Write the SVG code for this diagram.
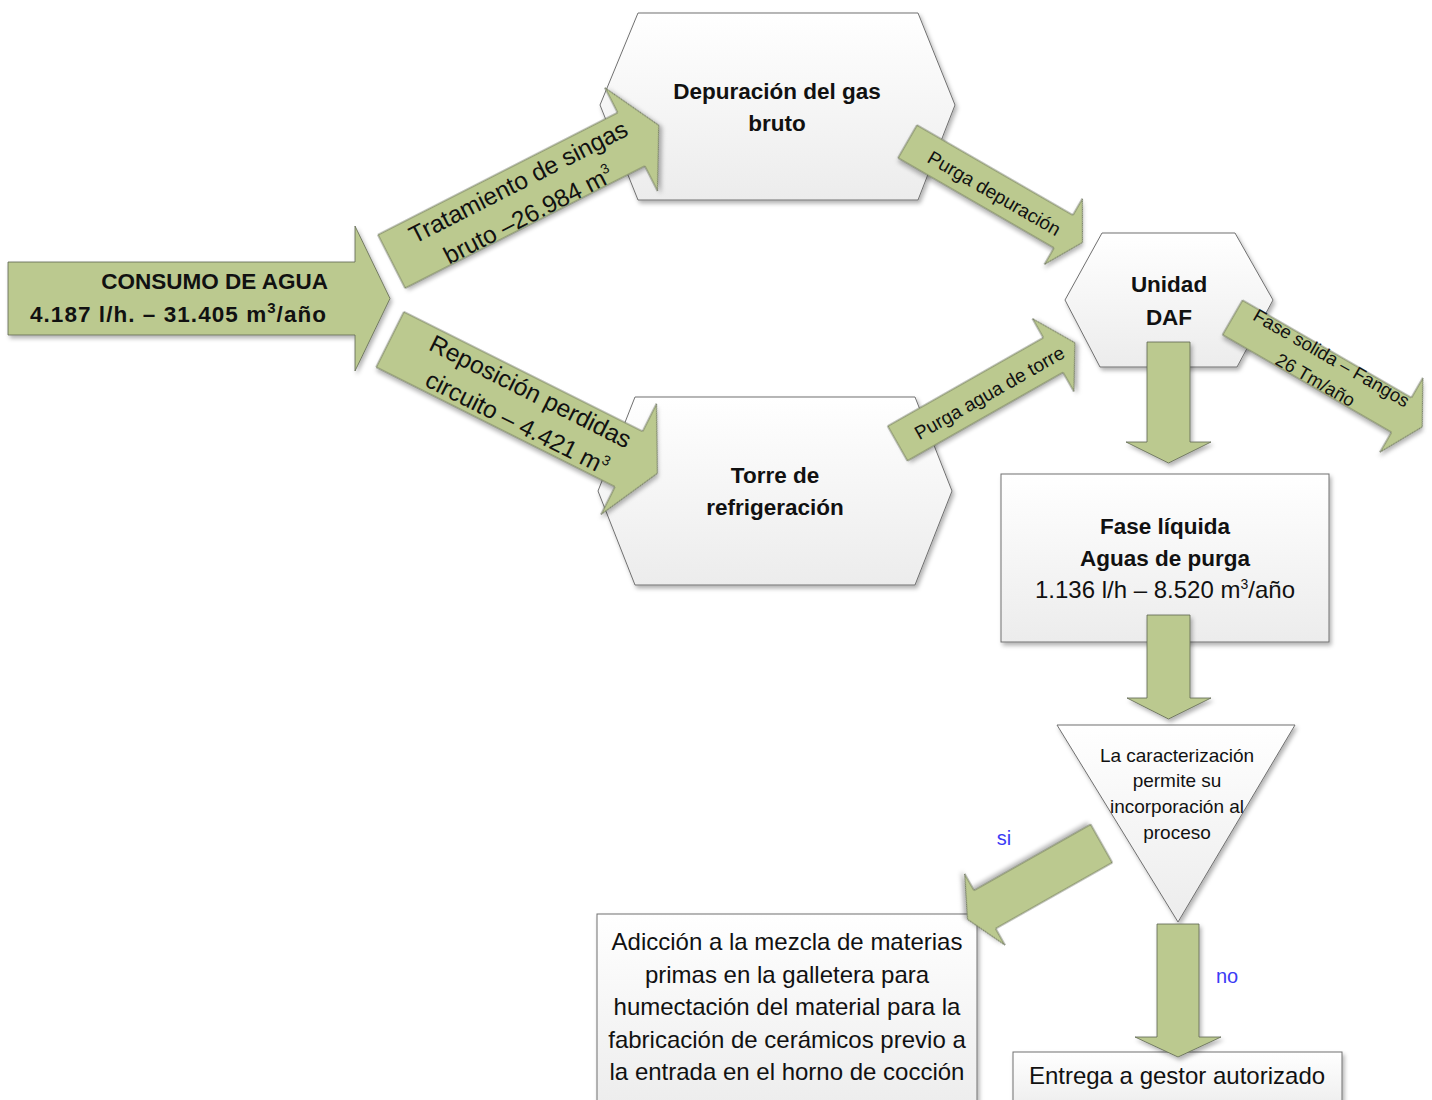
<svg xmlns="http://www.w3.org/2000/svg" width="1432" height="1100" viewBox="0 0 1432 1100">
<defs>
<linearGradient id="gNode" x1="0" y1="0" x2="0" y2="1">
<stop offset="0" stop-color="#ffffff"/>
<stop offset="1" stop-color="#ececec"/>
</linearGradient>
<filter id="sh" x="-10%" y="-10%" width="125%" height="130%">
<feDropShadow dx="2" dy="3" stdDeviation="2" flood-color="#000" flood-opacity="0.3"/>
</filter>
</defs>
<style>
.node{fill:url(#gNode);stroke:#707070;stroke-width:1;filter:url(#sh)}
.arr{fill:#bbc98f;stroke:#5e6650;stroke-width:0.8;filter:url(#sh)}
text{font-family:"Liberation Sans",Arial,sans-serif;fill:#111}
.b{font-weight:bold;font-size:22.5px}
.r{font-size:24px}
.d{font-size:24.5px}
.m{font-size:19px}
.s{font-size:18.5px}
.c{text-anchor:middle}
.blue{fill:#3b3bf5;font-size:20px}
</style>
<rect width="1432" height="1100" fill="#ffffff"/>

<g id="node-depuracion">
<path class="node" d="M638,13 L918,13 L955,105 L918,200 L638,200 L600,105 Z"/>
<text class="b c" x="777" y="99">Depuración del gas</text>
<text class="b c" x="777" y="131">bruto</text>
</g>
<g id="node-torre">
<path class="node" d="M635,397 L915,397 L952,491 L915,585 L635,585 L598,491 Z"/>
<text class="b c" x="775" y="483">Torre de</text>
<text class="b c" x="775" y="515">refrigeración</text>
</g>
<g id="node-daf">
<path class="node" d="M1102,233 L1235,233 L1273,300 L1237,367 L1100,367 L1065,300 Z"/>
<text class="b c" x="1169" y="292">Unidad</text>
<text class="b c" x="1169" y="325">DAF</text>
</g>
<g id="node-fase-liquida">
<rect class="node" x="1001" y="474" width="328" height="168"/>
<text class="b c" x="1165" y="534">Fase líquida</text>
<text class="b c" x="1165" y="566">Aguas de purga</text>
<text class="r c" x="1165" y="598">1.136 l/h – 8.520 m<tspan dy="-9" font-size="14">3</tspan><tspan dy="9">/año</tspan></text>
</g>
<g id="node-decision">
<path class="node" d="M1057,725 L1295,725 L1178,922 Z"/>
<text class="m c" x="1177" y="762">La caracterización</text>
<text class="m c" x="1177" y="787">permite su</text>
<text class="m c" x="1177" y="813">incorporación al</text>
<text class="m c" x="1177" y="839">proceso</text>
</g>
<g id="node-adiccion">
<rect class="node" x="597" y="914" width="380" height="200"/>
<text class="r c" x="787" y="950">Adicción a la mezcla de materias</text>
<text class="r c" x="787" y="983">primas en la galletera para</text>
<text class="r c" x="787" y="1015">humectación del material para la</text>
<text class="r c" x="787" y="1048">fabricación de cerámicos previo a</text>
<text class="r c" x="787" y="1080">la entrada en el horno de cocción</text>
</g>
<g id="node-entrega">
<rect class="node" x="1013" y="1052" width="329" height="60"/>
<text class="r c" x="1177" y="1084">Entrega a gestor autorizado</text>
</g>

<g id="connectors">
<g id="arrow-consumo">
<path class="arr" d="M8,262 L355,262 L355,226 L390,298.5 L355,371 L355,335 L8,335 Z"/>
<text class="b" x="328" y="289" text-anchor="end">CONSUMO DE AGUA</text>
<text class="b" x="30" y="322" font-size="24px" letter-spacing="1.05">4.187 l/h. – 31.405 m<tspan dy="-9" font-size="15">3</tspan><tspan dy="9">/año</tspan></text>
</g>
<g id="arrow-tratamiento" transform="translate(391.5,261.5) rotate(-27)">
<path class="arr" d="M0,-30 L269,-30 L269,-58 L300,0 L269,58 L269,30 L0,30 Z"/>
<text class="d c" x="149" y="-5">Tratamiento de singas</text>
<text class="d c" x="143" y="29">bruto –26.984 m<tspan dy="-10" font-size="14">3</tspan></text>
</g>
<g id="arrow-reposicion" transform="translate(390,339.5) rotate(26.6)">
<path class="arr" d="M0,-31 L267,-31 L267,-62 L299,0 L267,62 L267,31 L0,31 Z"/>
<text class="d c" x="149" y="-8">Reposición perdidas</text>
<text class="d c" x="151" y="26">circuito – 4.421 m<tspan dy="-10" font-size="14">3</tspan></text>
</g>
<g id="arrow-purga-depuracion" transform="translate(907.5,141.5) rotate(30)">
<path class="arr" d="M0,-19 L180,-19 L180,-38 L202,0 L180,38 L180,19 L0,19 Z"/>
<text class="m c" x="101" y="8">Purga depuración</text>
</g>
<g id="arrow-purga-torre" transform="translate(897.5,443.5) rotate(-29.6)">
<path class="arr" d="M0,-20 L179,-20 L179,-42 L204,0 L179,42 L179,20 L0,20 Z"/>
<text class="m c" x="105" y="8">Purga agua de torre</text>
</g>
<g id="arrow-fase-solida" transform="translate(1232.5,317.5) rotate(30)">
<path class="arr" d="M0,-20 L195,-20 L195,-43 L219,0 L195,43 L195,20 L0,20 Z"/>
<text class="s c" x="106" y="-8">Fase solida – Fangos</text>
<text class="s c" x="103" y="19">26 Tm/año</text>
</g>
<g id="arrow-daf-down">
<path class="arr" d="M1147,342 L1190,342 L1190,442 L1211,442 L1168.5,463 L1126,442 L1147,442 Z"/>
</g>
<g id="arrow-fase-down">
<path class="arr" d="M1147,615 L1190,615 L1190,698 L1211,698 L1168.5,719 L1127,698 L1147,698 Z"/>
</g>
<g id="arrow-si" transform="translate(1101.5,843.5) rotate(150.5)">
<path class="arr" d="M0,-22 L134,-22 L134,-41 L154,0 L134,41 L134,22 L0,22 Z"/>
</g>
<text class="blue" x="1004" y="845" text-anchor="middle">si</text>
<g id="arrow-no">
<path class="arr" d="M1157,924 L1199,924 L1199,1037 L1221,1037 L1178,1057 L1135,1037 L1157,1037 Z"/>
</g>
<text class="blue" x="1227" y="983" text-anchor="middle">no</text>
</g>
</svg>
